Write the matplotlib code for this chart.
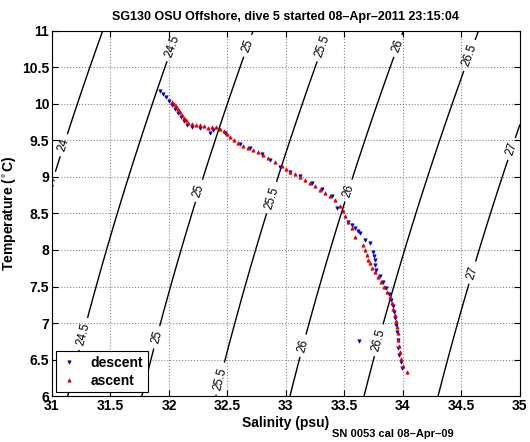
import numpy as np
import matplotlib
matplotlib.use('Agg')
import matplotlib.pyplot as plt

plt.rcParams['font.family'] = ['Liberation Sans', 'DejaVu Sans']

# descent (blue) salinity / temperature
desc_sal = [31.923, 31.949, 31.974, 32.000, 32.026, 32.051, 32.077, 32.103, 32.128, 32.154,
            32.197, 32.265, 32.350, 32.376, 32.479, 32.607, 32.692, 32.795, 32.863, 32.949,
            33.034, 33.120, 33.222, 33.308, 33.393, 33.436, 33.530, 33.564, 33.590, 33.615,
            33.632, 33.675, 33.718, 33.744, 33.752, 33.761, 33.761, 33.769, 33.803, 33.829,
            33.855, 33.880, 33.897, 33.915, 33.923, 33.932, 33.940, 33.949, 33.957, 33.957,
            33.966, 33.983, 33.991, 33.624]
desc_temp = [10.178, 10.137, 10.096, 10.041, 9.986, 9.932, 9.877, 9.822, 9.767, 9.712,
             9.685, 9.671, 9.603, 9.644, 9.603, 9.452, 9.397, 9.315, 9.233, 9.137,
             9.068, 9.014, 8.918, 8.836, 8.740, 8.575, 8.384, 8.342, 8.301, 8.260,
             8.233, 8.137, 8.096, 7.973, 7.918, 7.863, 7.795, 7.726, 7.644, 7.562,
             7.479, 7.397, 7.315, 7.233, 7.151, 7.068, 6.973, 6.877, 6.767, 6.658,
             6.562, 6.466, 6.384, 6.753]

# ascent (red)
asc_sal = [32.026, 32.043, 32.060, 32.077, 32.094, 32.111, 32.128, 32.145, 32.162, 32.197,
           32.231, 32.265, 32.299, 32.333, 32.368, 32.402, 32.436, 32.470, 32.496, 32.521,
           32.556, 32.590, 32.632, 32.675, 32.718, 32.761, 32.803, 32.846, 32.906, 32.966,
           33.000, 33.034, 33.077, 33.120, 33.162, 33.205, 33.248, 33.291, 33.333, 33.376,
           33.419, 33.462, 33.487, 33.504, 33.530, 33.564, 33.590, 33.658, 33.675, 33.692,
           33.701, 33.718, 33.735, 33.761, 33.786, 33.812, 33.838, 33.863, 33.889, 33.906,
           33.915, 33.932, 33.940, 33.949, 33.957, 33.957, 33.966, 33.974, 33.983, 34.000,
           34.034]
asc_temp = [10.027, 10.000, 9.973, 9.932, 9.890, 9.849, 9.808, 9.781, 9.740, 9.726,
            9.712, 9.712, 9.699, 9.671, 9.685, 9.685, 9.658, 9.630, 9.589, 9.548,
            9.507, 9.466, 9.425, 9.397, 9.370, 9.342, 9.301, 9.260, 9.205, 9.151,
            9.110, 9.068, 9.041, 9.000, 8.959, 8.918, 8.877, 8.822, 8.781, 8.740,
            8.685, 8.603, 8.534, 8.466, 8.384, 8.301, 8.178, 8.068, 8.000, 7.932,
            7.863, 7.822, 7.753, 7.699, 7.630, 7.562, 7.493, 7.425, 7.356, 7.274,
            7.192, 7.110, 7.027, 6.945, 6.863, 6.767, 6.685, 6.603, 6.507, 6.411,
            6.329]

sigma_levels = [24, 24.5, 25, 25.5, 26, 26.5, 27]


def sigma_t(S, T):
    # UNESCO 1980 density at surface pressure, minus 1000
    rho_w = (999.842594 + 6.793952e-2 * T - 9.095290e-3 * T**2 + 1.001685e-4 * T**3
             - 1.120083e-6 * T**4 + 6.536332e-9 * T**5)
    A = 8.24493e-1 - 4.0899e-3 * T + 7.6438e-5 * T**2 - 8.2467e-7 * T**3 + 5.3875e-9 * T**4
    B = -5.72466e-3 + 1.0227e-4 * T - 1.6546e-6 * T**2
    C = 4.8314e-4
    return rho_w + A * S + B * S**1.5 + C * S**2 - 1000


fig = plt.figure(figsize=(5.3, 4.42), dpi=100)
ax = fig.add_axes([0.098, 0.104, 0.883, 0.826])

sg, tg = np.meshgrid(np.linspace(31, 35, 200), np.linspace(6, 11, 200))
cs = ax.contour(sg, tg, sigma_t(sg, tg), levels=sigma_levels, colors='k', linewidths=1)
label_spots = [(32.01, 10.81), (32.65, 10.81), (33.29, 10.81), (33.93, 10.81), (34.56, 10.67),
               (31.09, 9.44), (31.22, 8.73), (32.24, 8.82), (32.85, 8.73), (33.52, 8.82),
               (34.90, 9.40), (31.15, 6.90), (31.67, 6.90), (32.31, 6.29), (33.12, 6.70),
               (33.78, 6.77), (34.51, 7.73)]
ax.clabel(cs, fmt='%g', fontsize=8.5, inline=True, manual=label_spots)

ax.plot(desc_sal, desc_temp, 'v', color='#0000cc', markersize=2.4, markeredgewidth=0.5,
        linestyle='none', label='descent')
ax.plot(asc_sal, asc_temp, '^', color='#dd0000', markersize=2.4, markeredgewidth=0.5,
        linestyle='none', label='ascent')

ax.set_xlim(31, 35)
ax.set_ylim(6, 11)
ax.set_xticks(np.arange(31, 35.01, 0.5))
ax.set_yticks(np.arange(6, 11.01, 0.5))
ax.set_xticklabels(['31', '31.5', '32', '32.5', '33', '33.5', '34', '34.5', '35'])
ax.set_yticklabels(['6', '6.5', '7', '7.5', '8', '8.5', '9', '9.5', '10', '10.5', '11'])
ax.tick_params(direction='in', top=True, right=True, labelsize=10, length=4, pad=2)
for lab in ax.get_xticklabels() + ax.get_yticklabels():
    lab.set_fontweight('bold')
ax.grid(True, linestyle=':', color='#888888', linewidth=0.8)

ax.set_xlabel('Salinity (psu)', fontsize=10, fontweight='bold')
ax.xaxis.set_label_coords(0.5, -0.055)
ax.set_ylabel('Temperature ($^{\\circ}$C)', fontsize=10, fontweight='bold')
ax.yaxis.set_label_coords(-0.072, 0.5)
ax.set_title('SG130 OSU Offshore, dive 5 started 08\u2013Apr\u20132011 23:15:04',
             fontsize=9, fontweight='bold', pad=8)
fig.text(0.626, 0.012, 'SN 0053 cal 08\u2013Apr\u201309', fontsize=8, fontweight='bold')

leg = ax.legend(loc='lower left', prop={'weight': 'bold', 'size': 10},
                fancybox=False, edgecolor='k', framealpha=1, borderaxespad=0.3,
                handlelength=1.2, handletextpad=1.0, markerscale=1.0, borderpad=0.3,
                labelspacing=0.3)
leg.get_frame().set_linewidth(0.8)

fig.savefig('out.png', dpi=100)
